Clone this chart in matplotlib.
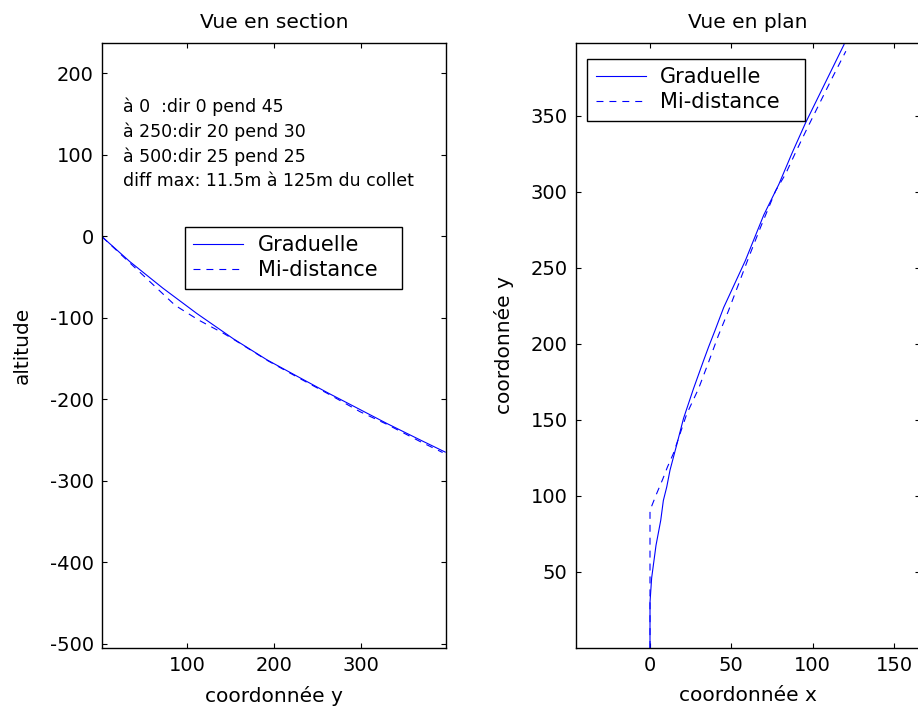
import matplotlib
matplotlib.use("Agg")
import matplotlib.pyplot as plt

# --- Vue en section : coordonnee y vs altitude ---
sec_grad_y = [2, 34, 72, 111, 153, 192, 230, 263, 292, 330, 368, 397]
sec_grad_z = [-1, -31.5, -64, -95, -126, -152, -174, -193, -209, -230, -250, -265]

sec_mid_y = [2, 45, 86, 113, 127, 142, 153, 192, 230, 263, 299, 330, 368, 394]
sec_mid_z = [-1, -44, -85, -103, -111, -119.5, -126.5, -152.5, -175, -194, -215.5, -231, -252, -265.5]

# --- Vue en plan : coordonnee x vs coordonnee y ---
plan_grad_x = [0, 0, 1, 3.7, 6.6, 8.2, 10.3, 12.3, 16.5, 20.6, 26.7, 32.9, 36, 40,
               45.3, 58.6, 70, 79.2, 87.5, 95.7, 119.3]
plan_grad_y = [0, 30, 46, 67.6, 84, 97, 106, 117, 134, 151, 170.5, 189, 198, 209,
               224, 254.8, 285, 305, 326, 345.6, 397]

plan_mid_x = [0, 0, 4.1, 7.8, 10.7, 14.4, 22.6, 29.8, 36, 42, 48.3, 60.7, 67.9,
              77.2, 83.3, 89.5, 96.7, 112, 120.4]
plan_mid_y = [0, 90.6, 101.6, 111, 119, 128, 154, 170.5, 188, 205.5, 222, 257, 276.6,
              300.7, 311.7, 326, 342, 375, 392.6]

labels = ["Graduelle", "Mi-distance"]
notes = ["à 0  :dir 0 pend 45",
         "à 250:dir 20 pend 30",
         "à 500:dir 25 pend 25",
         "diff max: 11.5m à 125m du collet"]

plt.rcParams['lines.scale_dashes'] = False
plt.rcParams['axes.unicode_minus'] = False
DASH = (0, (5, 4.3))


def style_axes(ax):
	ax.tick_params(direction='in', top=True, right=True, length=3.8, width=0.8,
				   labelsize=14, pad=6)
	for sp in ax.spines.values():
		sp.set_linewidth(1.0)


def add_legend(ax, x0, ytop, w):
	leg = ax.legend(labels, loc='upper left', bbox_to_anchor=(x0, ytop, w, 0),
					mode='expand', borderaxespad=0, fancybox=False, framealpha=1,
					edgecolor='black', fontsize=15, borderpad=0.4, labelspacing=0.25,
					handlelength=2.4, handletextpad=0.7)
	leg.get_frame().set_linewidth(1.0)
	return leg


def main():
	fig = plt.figure(figsize=(9.18, 7.11), dpi=100)

	# section
	ax1 = fig.add_axes([102/918, 63/711, 344/918, 605/711])
	ax1.plot(sec_grad_y, sec_grad_z, color='b', lw=0.8)
	ax1.plot(sec_mid_y, sec_mid_z, color='b', lw=0.8, linestyle=DASH)
	ax1.set_xlim(1.8, 397.9)
	ax1.set_ylim(-505.3, 236.8)
	ax1.set_xticks([100, 200, 300])
	ax1.set_yticks([-500, -400, -300, -200, -100, 0, 100, 200])
	style_axes(ax1)
	ax1.set_title("Vue en section", fontsize=14.5, pad=11)
	ax1.set_xlabel("coordonnée y", fontsize=14.5)
	ax1.set_ylabel("altitude", fontsize=14.5)
	ax1.xaxis.set_label_coords(0.5, -0.062)
	ax1.yaxis.set_label_coords(-0.205, 0.5)
	for i, t in enumerate(notes):
		ax1.text(0.06, 0.886 - 0.041 * i, t, transform=ax1.transAxes,
				 fontsize=12.5, va='baseline', ha='left')
	add_legend(ax1, 0.241, 0.696, 0.631)

	# plan
	ax2 = fig.add_axes([576/918, 63/711, 344/918, 605/711])
	ax2.plot(plan_grad_x, plan_grad_y, color='b', lw=0.8)
	ax2.plot(plan_mid_x, plan_mid_y, color='b', lw=0.8, linestyle=DASH)
	ax2.set_xlim(-45.5, 166)
	ax2.set_ylim(0, 398)
	ax2.set_xticks([0, 50, 100, 150])
	ax2.set_yticks([50, 100, 150, 200, 250, 300, 350])
	style_axes(ax2)
	ax2.set_title("Vue en plan", fontsize=14.5, pad=11)
	ax2.set_xlabel("coordonnée x", fontsize=14.5)
	ax2.set_ylabel("coordonnée y", fontsize=14.5)
	ax2.xaxis.set_label_coords(0.5, -0.062)
	ax2.yaxis.set_label_coords(-0.18, 0.5)
	add_legend(ax2, 0.033, 0.974, 0.633)

	fig.savefig("out.png", dpi=100)


if __name__ == "__main__":
	main()
